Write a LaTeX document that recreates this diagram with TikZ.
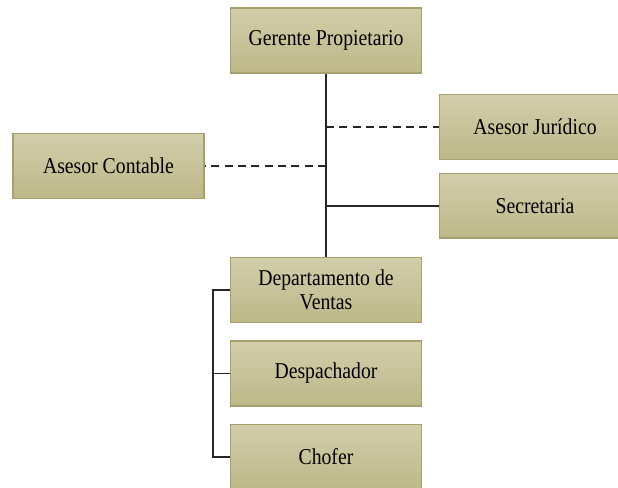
\documentclass[tikz,border=0pt]{standalone}
\usepackage{fontspec}
\setmainfont{Liberation Serif}[FakeStretch=0.87]
\usepackage{tikz}
\usetikzlibrary{positioning}

\definecolor{cajaarriba}{RGB}{210,206,171}
\definecolor{cajaabajo}{RGB}{189,183,136}
\definecolor{cajaborde}{RGB}{168,160,108}

\tikzset{
	cargo/.style={draw=cajaborde, line width=1.1pt, top color=cajaarriba, bottom color=cajaabajo,
		minimum width=143pt, minimum height=48.5pt, align=center, inner sep=2pt,
		font=\fontsize{17}{18}\selectfont},
	linea/.style={line width=1.1pt, black!85},
	punteada/.style={linea, dash pattern=on 6pt off 4pt}
}

\begin{document}
\begin{tikzpicture}[x=0.75pt, y=-0.75pt, node distance=13pt]
		\useasboundingbox (0,0) rectangle (618,488);
		\clip (0,0) rectangle (618,488);

		\node[cargo] (gerente) at (326,40.5) {Gerente Propietario};
		\node[cargo] (contable) at (108.5,166) {Asesor Contable};
		\node[cargo] (juridico) at (535,127) {Asesor Jurídico};
		\node[cargo, below=9.5pt of juridico] (secretaria) {Secretaria};
		\node[cargo] (ventas) at (326,290) {Departamento de\\Ventas};
		\node[cargo, below=of ventas] (despachador) {Despachador};
		\node[cargo, below=of despachador] (chofer) {Chofer};
		\coordinate (eje) at (213,0);

		\draw[linea] (gerente) -- (ventas);
		\draw[punteada] (juridico.west -| gerente.south) -- (juridico.west);
		\draw[punteada] (contable.east -| gerente.south) -- (contable.east);
		\draw[linea] (secretaria.west) -- (secretaria.west -| gerente.south);
		\draw[linea] (ventas.west) -- (ventas.west -| eje) |- (chofer.west);
		\draw[linea] (despachador.west) -- (despachador.west -| eje);
	\end{tikzpicture}
\end{document}
